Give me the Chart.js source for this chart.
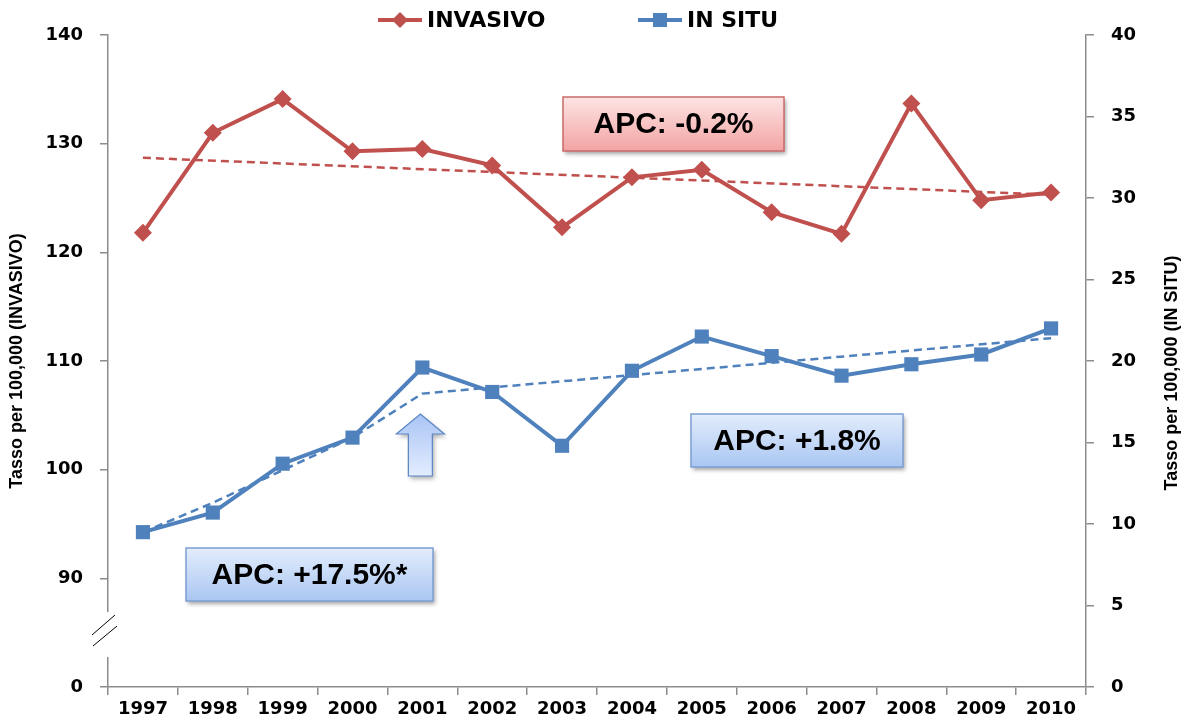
<!DOCTYPE html>
<html>
<head>
<meta charset="utf-8">
<script src="https://cdn.jsdelivr.net/npm/chart.js@4.4.1/dist/chart.umd.min.js"></script>
<style>
  html, body { margin: 0; padding: 0; background: #fff; }
  #wrap { width: 1186px; height: 724px; }
</style>
</head>
<body>
<div id="wrap"><canvas id="chart" width="1186" height="724"></canvas></div>
<script>
// data
const years = ['1997','1998','1999','2000','2001','2002','2003','2004','2005','2006','2007','2008','2009','2010'];
const invasivo = [121.8, 131.0, 134.1, 129.3, 129.5, 128.0, 122.3, 126.9, 127.6, 123.7, 121.7, 133.7, 124.8, 125.5];
const inSitu = [9.5, 10.7, 13.7, 15.3, 19.6, 18.1, 14.8, 19.4, 21.5, 20.3, 19.1, 19.8, 20.4, 22.0];
const trendInvasivo = [128.7, null, null, null, null, null, null, null, null, null, null, null, null, 125.3];
const trendInSitu = [9.5, 11.3, 13.3, 15.3, 18.0, null, null, null, null, null, null, null, null, 21.4];
const leftTicks = [80, 90, 100, 110, 120, 130, 140];
const rightTicks = [0, 5, 10, 15, 20, 25, 30, 35, 40];
const apcLabels = ['APC: -0.2%', 'APC: +17.5%*', 'APC: +1.8%'];

const RED = '#c0504d';
const BLUE = '#4f81bd';
const AXIS = '#8c8c8c';
const tickFont = { family: 'DejaVu Sans', weight: 'bold', size: 18 };
const titleFont = { family: 'Liberation Sans', weight: 'bold', size: 18 };

function box(ctx, x, y, w, h, top, bottom, border, text) {
  ctx.save();
  ctx.shadowColor = 'rgba(0,0,0,0.35)';
  ctx.shadowBlur = 4;
  ctx.shadowOffsetX = 2;
  ctx.shadowOffsetY = 3;
  const g = ctx.createLinearGradient(0, y, 0, y + h);
  g.addColorStop(0, top);
  g.addColorStop(1, bottom);
  ctx.fillStyle = g;
  ctx.fillRect(x, y, w, h);
  ctx.restore();
  ctx.save();
  ctx.strokeStyle = border;
  ctx.lineWidth = 1.5;
  ctx.strokeRect(x, y, w, h);
  ctx.fillStyle = '#000';
  ctx.font = 'bold 30px "Liberation Sans"';
  ctx.textAlign = 'center';
  ctx.textBaseline = 'middle';
  ctx.fillText(text, x + w / 2, y + h / 2 + 1);
  ctx.restore();
}

const extras = {
  id: 'extras',
  afterDatasetsDraw(chart) {
    const ctx = chart.ctx;
    // APC boxes
    box(ctx, 563, 97, 221, 54, '#fde4e4', '#f3a3a3', '#c86b69', apcLabels[0]);
    box(ctx, 186, 548, 247, 53, '#e3edfc', '#a9c6f2', '#7d9fd3', apcLabels[1]);
    box(ctx, 691, 414, 212, 53, '#e3edfc', '#a9c6f2', '#7d9fd3', apcLabels[2]);

    // joinpoint arrow under 2001
    const xs = chart.scales.x;
    const cx = xs.getPixelForValue(4) - 2;
    ctx.save();
    ctx.beginPath();
    ctx.moveTo(cx, 414);
    ctx.lineTo(cx + 24, 434);
    ctx.lineTo(cx + 12, 434);
    ctx.lineTo(cx + 12, 476);
    ctx.lineTo(cx - 12, 476);
    ctx.lineTo(cx - 12, 434);
    ctx.lineTo(cx - 24, 434);
    ctx.closePath();
    ctx.shadowColor = 'rgba(0,0,0,0.3)';
    ctx.shadowBlur = 4;
    ctx.shadowOffsetX = 2;
    ctx.shadowOffsetY = 3;
    const g = ctx.createLinearGradient(0, 414, 0, 476);
    g.addColorStop(0, '#a9c4f5');
    g.addColorStop(1, '#e3edff');
    ctx.fillStyle = g;
    ctx.fill();
    ctx.shadowColor = 'transparent';
    ctx.strokeStyle = '#5b86c5';
    ctx.lineWidth = 1.2;
    ctx.stroke();
    ctx.restore();
  },
  afterDraw(chart) {
    const ctx = chart.ctx;
    const area = chart.chartArea;
    // axis break
    ctx.save();
    ctx.fillStyle = '#fff';
    ctx.fillRect(area.left - 3, 612, 6, 45);
    ctx.strokeStyle = '#000';
    ctx.lineWidth = 1;
    ctx.beginPath();
    ctx.moveTo(92, 635); ctx.lineTo(115, 615);
    ctx.moveTo(93, 646); ctx.lineTo(117, 626);
    ctx.stroke();
    ctx.restore();

    // right axis title, reading bottom to top like the left one
    ctx.save();
    ctx.translate(1172, (area.top + area.bottom) / 2 + 12);
    ctx.rotate(-Math.PI / 2);
    ctx.font = 'bold 18px "Liberation Sans"';
    ctx.fillStyle = '#000';
    ctx.textAlign = 'center';
    ctx.textBaseline = 'middle';
    ctx.fillText('Tasso per 100,000 (IN SITU)', 0, 0);
    ctx.restore();

    // legend
    const items = [
      { label: 'INVASIVO', color: RED, style: 'diamond', x: 378 },
      { label: 'IN SITU', color: BLUE, style: 'square', x: 638 }
    ];
    ctx.save();
    ctx.font = 'bold 22px "DejaVu Sans"';
    ctx.textBaseline = 'middle';
    items.forEach(it => {
      const y = 20;
      ctx.strokeStyle = it.color;
      ctx.fillStyle = it.color;
      ctx.lineWidth = 4;
      ctx.beginPath();
      ctx.moveTo(it.x, y);
      ctx.lineTo(it.x + 44, y);
      ctx.stroke();
      const mx = it.x + 22;
      ctx.beginPath();
      if (it.style === 'diamond') {
        ctx.moveTo(mx, y - 8); ctx.lineTo(mx + 8, y); ctx.lineTo(mx, y + 8); ctx.lineTo(mx - 8, y);
        ctx.closePath();
      } else {
        ctx.rect(mx - 7, y - 7, 14, 14);
      }
      ctx.fill();
      ctx.fillStyle = '#000';
      ctx.fillText(it.label, it.x + 49, y + 1);
    });
    ctx.restore();
  }
};

new Chart(document.getElementById('chart'), {
  type: 'line',
  data: {
    labels: years,
    datasets: [
      {
        label: 'INVASIVO',
        data: invasivo,
        yAxisID: 'yL',
        borderColor: RED,
        backgroundColor: RED,
        borderWidth: 4,
        pointStyle: 'rectRot',
        pointRadius: 9,
        pointBorderWidth: 0,
        tension: 0,
        order: 1
      },
      {
        label: 'IN SITU',
        data: inSitu,
        yAxisID: 'yR',
        borderColor: BLUE,
        backgroundColor: BLUE,
        borderWidth: 4,
        pointStyle: 'rect',
        pointRadius: 10,
        pointBorderWidth: 0,
        tension: 0,
        order: 1
      },
      {
        label: 'trend invasivo',
        data: trendInvasivo,
        yAxisID: 'yL',
        borderColor: RED,
        borderWidth: 2.5,
        borderDash: [8, 5],
        pointRadius: 0,
        spanGaps: true,
        order: 2
      },
      {
        label: 'trend in situ',
        data: trendInSitu,
        yAxisID: 'yR',
        borderColor: BLUE,
        borderWidth: 2.5,
        borderDash: [8, 5],
        pointRadius: 0,
        spanGaps: true,
        order: 2
      }
    ]
  },
  options: {
    responsive: false,
    animation: false,
    layout: { padding: { top: 35, left: 0, right: 0, bottom: 0 } },
    plugins: {
      legend: { display: false },
      tooltip: { enabled: false }
    },
    scales: {
      x: {
        offset: true,
        grid: { drawOnChartArea: false, offset: true, tickLength: 8, color: AXIS, lineWidth: 1.5 },
        border: { color: AXIS, width: 1.5 },
        ticks: { color: '#000', font: tickFont, padding: 4, maxRotation: 0, autoSkip: false },
        afterFit(s) { s.height = 37; }
      },
      yL: {
        position: 'left',
        min: 80,
        max: 140,
        afterBuildTicks(s) { s.ticks = leftTicks.map(v => ({ value: v })); },
        grid: { drawOnChartArea: false, tickLength: 8, color: AXIS, lineWidth: 1.5 },
        border: { color: AXIS, width: 1.5 },
        ticks: {
          color: '#000', font: tickFont, padding: 17,
          callback: v => (v === 80 ? '0' : v)
        },
        title: {
          display: true,
          text: 'Tasso per 100,000 (INVASIVO)',
          color: '#000',
          font: titleFont,
          padding: { top: 6, bottom: 0 }
        },
        afterFit(s) { s.width = 108; }
      },
      yR: {
        position: 'right',
        min: 0,
        max: 40,
        afterBuildTicks(s) { s.ticks = rightTicks.map(v => ({ value: v })); },
        grid: { drawOnChartArea: false, tickLength: 8, color: AXIS, lineWidth: 1.5 },
        border: { color: AXIS, width: 1.5 },
        ticks: { color: '#000', font: tickFont, padding: 17 },
        afterFit(s) { s.width = 100; }
      }
    }
  },
  plugins: [extras]
});
</script>
</body>
</html>
